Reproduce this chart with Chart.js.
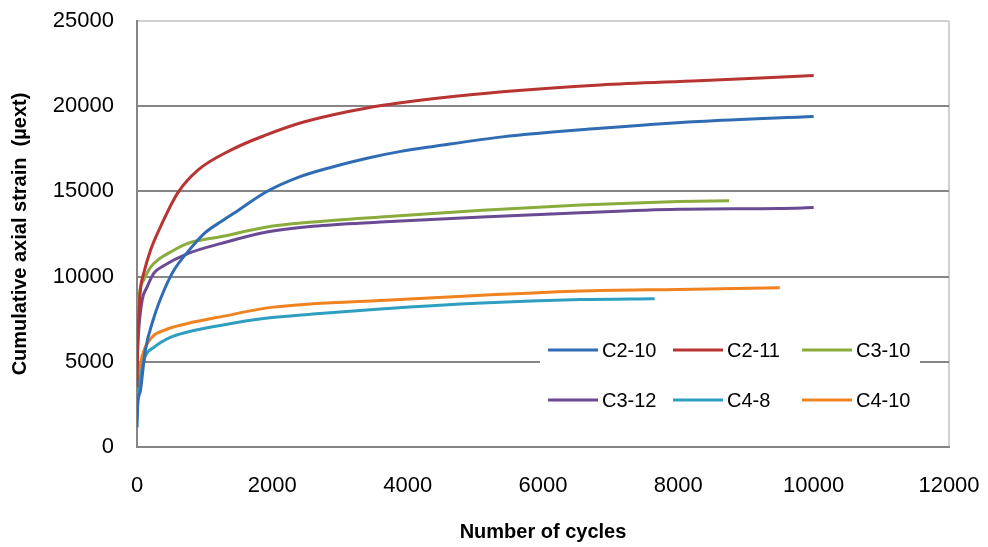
<!DOCTYPE html>
<html>
<head>
<meta charset="utf-8">
<script src="https://cdn.jsdelivr.net/npm/chart.js@4"></script>
<style>
  html, body { margin: 0; padding: 0; background: #fff; }
  #wrap { width: 988px; height: 547px; position: relative; }
</style>
</head>
<body>
<div id="wrap"><canvas id="strainChart" width="988" height="547"></canvas></div>
<script>
// Values
const seriesNames = ['C2-10', 'C2-11', 'C3-10', 'C3-12', 'C4-8', 'C4-10'];

const c210Cycles = [0, 10, 50, 120, 250, 400, 550, 750, 1000, 1250, 1500, 1900, 2400, 2900, 3400, 3900, 4400, 5400, 6850, 8300, 10000];
const c210Strain = [1150, 2400, 3300, 5600, 7600, 9200, 10400, 11450, 12550, 13250, 13900, 14950, 15850, 16450, 16950, 17350, 17650, 18200, 18700, 19100, 19400];

const c211Cycles = [0, 10, 25, 50, 100, 200, 350, 600, 900, 1400, 1900, 2400, 2900, 3400, 3900, 4400, 5400, 6850, 8300, 10000];
const c211Strain = [3500, 6000, 7600, 9200, 10200, 11550, 12950, 14900, 16250, 17450, 18300, 19000, 19500, 19900, 20200, 20450, 20850, 21250, 21500, 21800];

const c310Cycles = [0, 10, 25, 100, 200, 300, 500, 750, 1250, 1900, 2600, 3600, 5100, 6550, 8000, 8750];
const c310Strain = [5000, 7000, 8600, 9800, 10550, 10950, 11450, 11950, 12350, 12900, 13200, 13500, 13900, 14200, 14400, 14450];

const c312Cycles = [0, 10, 25, 75, 150, 250, 400, 750, 1250, 1900, 2600, 3600, 5100, 6550, 8000, 9500, 10000];
const c312Strain = [4500, 5800, 6850, 8600, 9400, 10200, 10650, 11350, 11950, 12600, 12950, 13200, 13500, 13750, 13950, 14000, 14050];

const c48Cycles = [0, 10, 50, 120, 250, 500, 750, 1250, 1900, 2600, 3600, 5100, 6550, 7650];
const c48Strain = [1750, 3000, 4100, 5300, 5850, 6450, 6750, 7150, 7550, 7800, 8100, 8450, 8650, 8700];

const c410Cycles = [0, 10, 25, 75, 200, 400, 750, 1250, 1900, 2600, 3600, 5100, 6550, 8000, 9500];
const c410Strain = [2150, 3300, 4100, 5300, 6350, 6850, 7250, 7650, 8150, 8400, 8600, 8900, 9150, 9250, 9350];

const yTicks = [0, 5000, 10000, 15000, 20000, 25000];
const xTicks = [0, 2000, 4000, 6000, 8000, 10000, 12000];

const seriesColors = ['#2f6cb3', '#b83432', '#8aac3c', '#6a4a93', '#2e9fc0', '#f08220'];

function toPoints(xs, ys) {
    return xs.map((x, i) => ({ x: x, y: ys[i] }));
}

const allSeries = [
    toPoints(c210Cycles, c210Strain),
    toPoints(c211Cycles, c211Strain),
    toPoints(c310Cycles, c310Strain),
    toPoints(c312Cycles, c312Strain),
    toPoints(c48Cycles, c48Strain),
    toPoints(c410Cycles, c410Strain)
];

const fontFamily = '"Liberation Sans", Arial, sans-serif';

// legend drawn inside the plot, two rows of three
const insideLegend = {
    id: 'insideLegend',
    beforeDatasetsDraw(chart) {
        const ctx = chart.ctx;
        ctx.save();
        ctx.fillStyle = '#fff';
        ctx.fillRect(540, 332, 380, 92);
        const colX = [548, 673, 802];
        const rowY = [350, 400];
        ctx.font = '20px ' + fontFamily;
        ctx.textBaseline = 'middle';
        seriesNames.forEach((name, i) => {
            const x = colX[i % 3];
            const y = rowY[Math.floor(i / 3)];
            ctx.strokeStyle = seriesColors[i];
            ctx.lineWidth = 3;
            ctx.beginPath();
            ctx.moveTo(x, y);
            ctx.lineTo(x + 50, y);
            ctx.stroke();
            ctx.fillStyle = '#000';
            ctx.fillText(name, x + 54, y + 1);
        });
        ctx.restore();
    }
};

const ctx = document.getElementById('strainChart').getContext('2d');

new Chart(ctx, {
    type: 'line',
    data: {
        datasets: allSeries.map((pts, i) => ({
            label: seriesNames[i],
            data: pts,
            borderColor: seriesColors[i],
            backgroundColor: seriesColors[i],
            borderWidth: 3,
            pointRadius: 0,
            cubicInterpolationMode: 'monotone',
            fill: false
        }))
    },
    options: {
        responsive: false,
        animation: false,
        layout: {
            padding: { top: 21, right: 39, bottom: 0, left: 0 }
        },
        plugins: {
            legend: { display: false },
            tooltip: { enabled: false }
        },
        scales: {
            x: {
                type: 'linear',
                min: 0,
                max: 12000,
                afterBuildTicks: (scale) => { scale.ticks = xTicks.map(v => ({ value: v })); },
                afterFit: (scale) => {
                    scale.height = 100;
                    scale.paddingLeft = 0;
                    scale.paddingRight = 0;
                },
                grid: {
                    drawTicks: false,
                    color: (c) => c.tick && c.tick.value === 12000 ? '#d0d0d0' : 'rgba(0,0,0,0)',
                    lineWidth: 2
                },
                border: { display: true, color: '#868686', width: 2 },
                ticks: {
                    padding: 26,
                    color: '#000',
                    callback: (v) => String(v),
                    font: { family: fontFamily, size: 22 }
                },
                title: {
                    display: true,
                    text: 'Number of cycles',
                    color: '#000',
                    padding: { top: 0, bottom: 3 },
                    font: { family: fontFamily, size: 20, weight: 'bold' }
                }
            },
            y: {
                min: 0,
                max: 25000,
                afterBuildTicks: (scale) => { scale.ticks = yTicks.map(v => ({ value: v })); },
                afterFit: (scale) => {
                    scale.width = 137;
                    scale.paddingTop = 0;
                    scale.paddingBottom = 0;
                },
                grid: {
                    drawTicks: false,
                    color: (c) => c.tick && c.tick.value === 25000 ? '#d0d0d0' : '#868686',
                    lineWidth: 2
                },
                border: { display: true, color: '#868686', width: 2 },
                ticks: {
                    padding: 23,
                    color: '#000',
                    callback: (v) => String(v),
                    font: { family: fontFamily, size: 22 }
                },
                title: {
                    display: true,
                    text: 'Cumulative axial strain  (\u00b5ext)',
                    color: '#000',
                    padding: { top: 8, bottom: 0 },
                    font: { family: fontFamily, size: 20, weight: 'bold' }
                }
            }
        }
    },
    plugins: [insideLegend]
});
</script>
</body>
</html>
